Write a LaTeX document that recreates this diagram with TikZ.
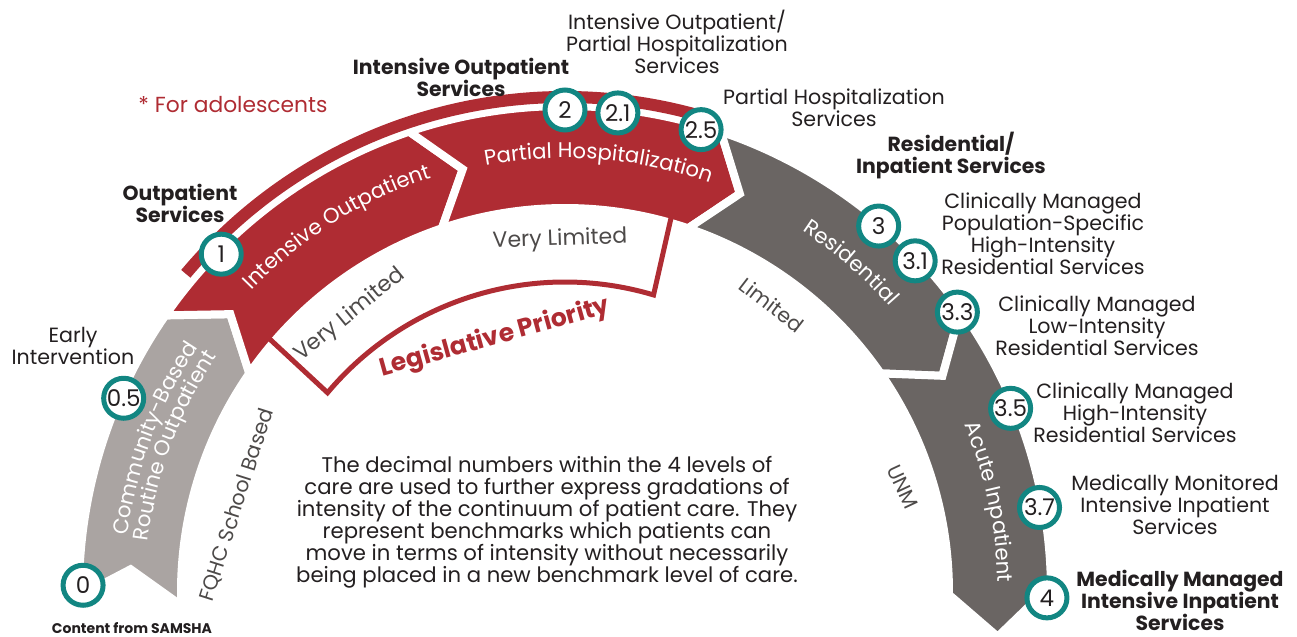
\documentclass[tikz,border=0pt]{standalone}
\usepackage{fontspec}
\setmainfont{Poppins}
\usetikzlibrary{calc, decorations.text}

\definecolor{asamred}{RGB}{175,44,51}
\definecolor{lightgrey}{RGB}{170,164,162}
\definecolor{darkgrey}{RGB}{106,101,99}
\definecolor{ringteal}{RGB}{18,134,130}
\definecolor{ink}{RGB}{35,31,32}
\definecolor{softink}{RGB}{77,74,73}

\begin{document}
\begin{tikzpicture}[
    x=0.5pt, y=0.5pt,
    piece/.style={draw=white, line width=4pt, line join=miter}, % band pieces with white seams
    lvl/.style={circle, draw=ringteal, line width=2.5pt, fill=white, minimum size=20pt,
        inner sep=0pt, text=ink, font=\fontsize{11.5}{12}\selectfont}, % level markers
    lbl/.style={align=center, inner sep=0pt, text=ink, font=\fontsize{10.3}{11}\selectfont},
    hdr/.style={lbl, font=\fontsize{10.2}{11}\selectfont\bfseries},
    grade/.style={inner sep=0pt, text=softink, font=\fontsize{10.3}{11}\selectfont}
]
\useasboundingbox (0,0) rectangle (1297,637);

% Centre of the arc and band radii
\coordinate (C) at (565,45);
\def\rin{384}
\def\rmid{435}
\def\rout{486}
\def\bandfont{\fontsize{10.6}{11}\selectfont}

% Chevron bands: tail corner/notch/corner, head corner/tip/corner (angles)
\foreach \col/\ao/\at/\ai/\bo/\bt/\bi in {
    lightgrey/180.5/177/182/145.3/140.3/145.3,
    asamred/145.3/140.3/145.3/108.7/103.6/108.7,
    asamred/108.7/103.6/108.7/71.3/66.3/71.3,
    darkgrey/71.3/66.3/71.3/35.5/29.8/34.7,
    darkgrey/35.5/29.8/34.7/0.8/-5.9/-0.4}
  \filldraw[piece, fill=\col] ($(C)+(\ao:\rout)$) arc[start angle=\ao, end angle=\bo, radius=\rout]
    -- ($(C)+(\bt:\rmid)$) -- ($(C)+(\bi:\rin)$) arc[start angle=\bi, end angle=\ai, radius=\rin]
    -- ($(C)+(\at:\rmid)$) -- cycle;

% Thin red rim over the red levels
\fill[asamred] ($(C)+(140:501)$) arc[start angle=140, end angle=73, radius=501]
  -- ($(C)+(73:489)$) arc[start angle=73, end angle=140, radius=489] -- cycle;

% Open red frame under the red levels
\draw[asamred, line width=2.5pt, line join=miter] ($(C)+(139.4:392)$) -- ($(C)+(140:310)$)
  arc[start angle=140, end angle=73.4, radius=310] -- ($(C)+(74.2:392)$);

% Band names along the arc
\path[decorate, decoration={text along path, text align=center, text color=white,
    text={|\bandfont|Community-Based}}]
  ($(C)+(190:441)$) arc[start angle=190, end angle=129, radius=441];
\path[decorate, decoration={text along path, text align=center, text color=white,
    text={|\bandfont|Routine Outpatient}}]
  ($(C)+(190:420)$) arc[start angle=190, end angle=129, radius=420];
\path[decorate, decoration={text along path, text align=center, text color=white,
    text={|\bandfont|Intensive Outpatient}}]
  ($(C)+(150:435)$) arc[start angle=150, end angle=94, radius=435];
\path[decorate, decoration={text along path, text align=center, text color=white,
    text={|\bandfont|Partial Hospitalization}}]
  ($(C)+(115:434)$) arc[start angle=115, end angle=56, radius=434];
\path[decorate, decoration={text along path, text align=center, text color=white,
    text={|\bandfont|Residential}}]
  ($(C)+(70:432)$) arc[start angle=70, end angle=28, radius=432];
\path[decorate, decoration={text along path, text align=center, text color=white,
    text={|\bandfont|Acute Inpatient}}]
  ($(C)+(35:433)$) arc[start angle=35, end angle=-11, radius=433];

% Availability notes inside the arc
\node[grade, rotate=39.3, font=\fontsize{11}{12}\selectfont] (vlone) at (350,322) {Very Limited};
\node[grade, rotate=2, font=\fontsize{11}{12}\selectfont] (vltwo) at (560,397) {Very Limited};
\node[grade, rotate=-37.6] (ltd) at (772,332) {Limited};
\node[grade, rotate=-65] (unm) at (903,150) {UNM};
\node[grade, rotate=72.4] (fqhc) at (237,132) {FQHC School Based};
\node[rotate=15.5, inner sep=0pt, text=asamred, font=\fontsize{12.5}{13}\selectfont\bfseries]
  (legis) at (495,299) {Legislative Priority};

% Level markers on the rim
\foreach \ang/\lab/\nm in {179.2/0/l0, 156.3/0.5/l05, 135.5/1/l1, 90/2/l2, 83.7/2.1/l21,
    73.6/2.5/l25, 49.4/3/l3, 43.4/3.1/l31, 35.5/3.3/l33, 22.4/3.5/l35, 10.1/3.7/l37, -0.7/4/l4}
  \node[lvl] (\nm) at ($(C)+(\ang:482)$) {\lab};

% Service names round the outside
\node[lbl] (early) at (73,291) {Early\\Intervention};
\node[hdr] (outsvc) at (180,434) {Outpatient\\Services};
\node[lbl, text=asamred, font=\fontsize{10.9}{12}\selectfont] (adol) at (233,532) {* For adolescents};
\node[hdr] (iosvc) at (461,560) {Intensive Outpatient\\Services};
\node[lbl] (iophsvc) at (677,595) {Intensive Outpatient/\\Partial Hospitalization\\Services};
\node[lbl] (phsvc) at (834,529) {Partial Hospitalization\\Services};
\node[hdr] (ressvc) at (951,481) {Residential/\\Inpatient Services};
\node[lbl] (cmpop) at (1043,403) {Clinically Managed\\Population-Specific\\High-Intensity\\Residential Services};
\node[lbl] (cmlow) at (1097,311) {Clinically Managed\\Low-Intensity\\Residential Services};
\node[lbl] (cmhigh) at (1135,224) {Clinically Managed\\High-Intensity\\Residential Services};
\node[lbl] (mmon) at (1175,132) {Medically Monitored\\Intensive Inpatient\\Services};
\node[hdr] (mman) at (1180,37) {Medically Managed\\Intensive Inpatient\\Services};
\node[lbl, font=\fontsize{7}{8}\selectfont\bfseries] (source) at (132,9) {Content from SAMSHA};

% Note in the middle
\node[lbl, font=\fontsize{10.6}{11}\selectfont] (note) at (547,115) {The decimal numbers within the 4 levels of\\
  care are used to further express gradations of\\
  intensity of the continuum of patient care. They\\
  represent benchmarks which patients can\\
  move in terms of intensity without necessarily\\
  being placed in a new benchmark level of care.};

\end{tikzpicture}
\end{document}
